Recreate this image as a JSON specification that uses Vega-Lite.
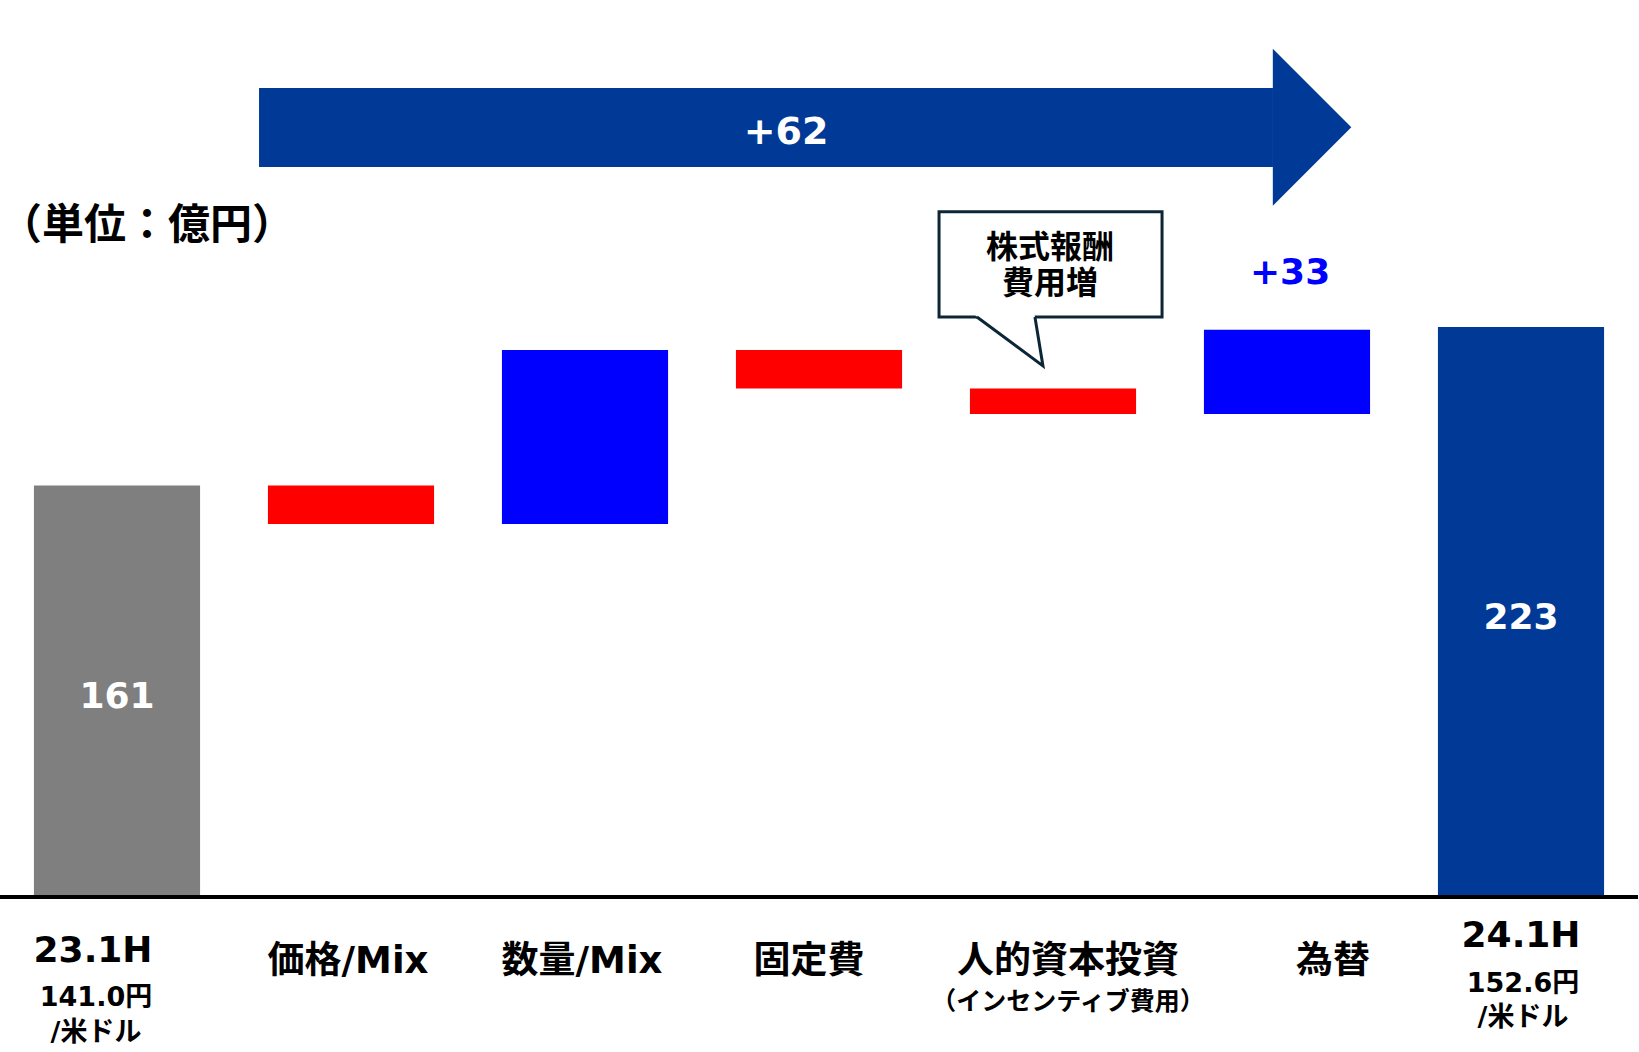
{
  "$schema": "https://vega.github.io/schema/vega-lite/v6.json",
  "width": 1638,
  "height": 897,
  "padding": {"left": 0, "top": 0, "right": 1, "bottom": 155},
  "autosize": {"type": "none"},
  "background": "white",
  "config": {"view": {"stroke": null}},
  "resolve": {"scale": {"x": "independent"}},
  "layer": [
    {
      "data": {
        "values": [
          {"category": "23.1H", "start": 0, "end": 161, "kind": "base"},
          {"category": "価格/Mix", "start": 161, "end": 146, "kind": "decrease"},
          {"category": "数量/Mix", "start": 146, "end": 214, "kind": "increase"},
          {"category": "固定費", "start": 214, "end": 199, "kind": "decrease"},
          {"category": "人的資本投資", "start": 199, "end": 189, "kind": "decrease"},
          {"category": "為替", "start": 189, "end": 222, "kind": "increase"},
          {"category": "24.1H", "start": 0, "end": 223, "kind": "result"}
        ]
      },
      "layer": [
        {
          "mark": {"type": "bar"},
          "encoding": {
            "x": {"field": "category", "type": "nominal", "axis": null,
                  "scale": {"domain": ["23.1H", "価格/Mix", "数量/Mix", "固定費", "人的資本投資", "為替", "24.1H"], "paddingInner": 0.29, "paddingOuter": 0.145}},
            "y": {"field": "start", "type": "quantitative", "axis": null,
                  "scale": {"domain": [0, 351], "nice": false, "zero": false}},
            "y2": {"field": "end"},
            "color": {"field": "kind", "type": "nominal", "legend": null,
                      "scale": {"domain": ["base", "decrease", "increase", "result"], "range": ["#7f7f7f", "#ff0000", "#0000ff", "#003a96"]}}
          }
        },
        {
          "data": {"values": [{}]},
          "mark": {"type": "rule", "color": "#000000", "strokeWidth": 4},
          "encoding": {"y": {"datum": 0, "type": "quantitative"}}
        },
        {
          "transform": [
            {"filter": "datum.kind === 'base' || datum.kind === 'result'"},
            {"fold": ["start", "end"], "as": ["k", "v"]},
            {"aggregate": [{"op": "mean", "field": "v", "as": "mid"}, {"op": "max", "field": "v", "as": "total"}], "groupby": ["category"]}
          ],
          "mark": {"type": "text", "font": "DejaVu Sans", "fontWeight": "bold", "fontSize": 36, "color": "#ffffff", "baseline": "middle", "align": "center", "dy": 6},
          "encoding": {
            "x": {"field": "category", "type": "nominal", "axis": null,
                  "scale": {"domain": ["23.1H", "価格/Mix", "数量/Mix", "固定費", "人的資本投資", "為替", "24.1H"], "paddingInner": 0.29, "paddingOuter": 0.145}},
            "y": {"field": "mid", "type": "quantitative"},
            "text": {"field": "total", "type": "quantitative"}
          }
        },
        {
          "data": {"values": [{"category": "価格/Mix", "label": "価格/Mix"}, {"category": "数量/Mix", "label": "数量/Mix"}]},
          "mark": {"type": "text", "font": "DejaVu Sans, Noto Sans CJK JP", "fontWeight": "bold", "fontSize": 37, "color": "#000000", "baseline": "middle", "align": "center", "dx": -3},
          "encoding": {
            "x": {"field": "category", "type": "nominal", "axis": null,
                  "scale": {"domain": ["23.1H", "価格/Mix", "数量/Mix", "固定費", "人的資本投資", "為替", "24.1H"], "paddingInner": 0.29, "paddingOuter": 0.145}},
            "y": {"datum": -25.4, "type": "quantitative"},
            "text": {"field": "label"}
          }
        },
        {
          "data": {"values": [{"category": "固定費", "label": "固定費"}]},
          "mark": {"type": "text", "font": "DejaVu Sans, Noto Sans CJK JP", "fontWeight": "bold", "fontSize": 37, "color": "#000000", "baseline": "middle", "align": "center", "dx": -10},
          "encoding": {
            "x": {"field": "category", "type": "nominal", "axis": null,
                  "scale": {"domain": ["23.1H", "価格/Mix", "数量/Mix", "固定費", "人的資本投資", "為替", "24.1H"], "paddingInner": 0.29, "paddingOuter": 0.145}},
            "y": {"datum": -25.4, "type": "quantitative"},
            "text": {"field": "label"}
          }
        },
        {
          "data": {"values": [{"category": "人的資本投資", "label": "人的資本投資"}]},
          "mark": {"type": "text", "font": "DejaVu Sans, Noto Sans CJK JP", "fontWeight": "bold", "fontSize": 37, "color": "#000000", "baseline": "middle", "align": "center", "dx": 15},
          "encoding": {
            "x": {"field": "category", "type": "nominal", "axis": null,
                  "scale": {"domain": ["23.1H", "価格/Mix", "数量/Mix", "固定費", "人的資本投資", "為替", "24.1H"], "paddingInner": 0.29, "paddingOuter": 0.145}},
            "y": {"datum": -25.4, "type": "quantitative"},
            "text": {"field": "label"}
          }
        },
        {
          "data": {"values": [{"category": "人的資本投資", "label": "（インセンティブ費用）"}]},
          "mark": {"type": "text", "font": "Noto Sans CJK JP", "fontWeight": "bold", "fontSize": 25, "color": "#000000", "baseline": "middle", "align": "center", "dx": 15},
          "encoding": {
            "x": {"field": "category", "type": "nominal", "axis": null,
                  "scale": {"domain": ["23.1H", "価格/Mix", "数量/Mix", "固定費", "人的資本投資", "為替", "24.1H"], "paddingInner": 0.29, "paddingOuter": 0.145}},
            "y": {"datum": -41.0, "type": "quantitative"},
            "text": {"field": "label"}
          }
        },
        {
          "data": {"values": [{"category": "為替", "label": "為替"}]},
          "mark": {"type": "text", "font": "DejaVu Sans, Noto Sans CJK JP", "fontWeight": "bold", "fontSize": 37, "color": "#000000", "baseline": "middle", "align": "center", "dx": 46},
          "encoding": {
            "x": {"field": "category", "type": "nominal", "axis": null,
                  "scale": {"domain": ["23.1H", "価格/Mix", "数量/Mix", "固定費", "人的資本投資", "為替", "24.1H"], "paddingInner": 0.29, "paddingOuter": 0.145}},
            "y": {"datum": -25.4, "type": "quantitative"},
            "text": {"field": "label"}
          }
        },
        {
          "data": {"values": [{"category": "23.1H", "label": "23.1H"}]},
          "mark": {"type": "text", "font": "DejaVu Sans", "fontWeight": "bold", "fontSize": 36, "color": "#000000", "baseline": "middle", "align": "center", "dx": -24},
          "encoding": {
            "x": {"field": "category", "type": "nominal", "axis": null,
                  "scale": {"domain": ["23.1H", "価格/Mix", "数量/Mix", "固定費", "人的資本投資", "為替", "24.1H"], "paddingInner": 0.29, "paddingOuter": 0.145}},
            "y": {"datum": -21.1, "type": "quantitative"},
            "text": {"field": "label"}
          }
        },
        {
          "data": {"values": [{"category": "23.1H", "label": "141.0円\n/米ドル"}]},
          "mark": {"type": "text", "font": "DejaVu Sans, Noto Sans CJK JP", "fontWeight": "bold", "fontSize": 27, "lineBreak": "\n", "lineHeight": 35, "color": "#000000", "baseline": "middle", "align": "center", "dx": -21},
          "encoding": {
            "x": {"field": "category", "type": "nominal", "axis": null,
                  "scale": {"domain": ["23.1H", "価格/Mix", "数量/Mix", "固定費", "人的資本投資", "為替", "24.1H"], "paddingInner": 0.29, "paddingOuter": 0.145}},
            "y": {"datum": -39.6, "type": "quantitative"},
            "text": {"field": "label"}
          }
        },
        {
          "data": {"values": [{"category": "24.1H", "label": "24.1H"}]},
          "mark": {"type": "text", "font": "DejaVu Sans", "fontWeight": "bold", "fontSize": 36, "color": "#000000", "baseline": "middle", "align": "center"},
          "encoding": {
            "x": {"field": "category", "type": "nominal", "axis": null,
                  "scale": {"domain": ["23.1H", "価格/Mix", "数量/Mix", "固定費", "人的資本投資", "為替", "24.1H"], "paddingInner": 0.29, "paddingOuter": 0.145}},
            "y": {"datum": -15.3, "type": "quantitative"},
            "text": {"field": "label"}
          }
        },
        {
          "data": {"values": [{"category": "24.1H", "label": "152.6円\n/米ドル"}]},
          "mark": {"type": "text", "font": "DejaVu Sans, Noto Sans CJK JP", "fontWeight": "bold", "fontSize": 27, "lineBreak": "\n", "lineHeight": 34, "color": "#000000", "baseline": "middle", "align": "center", "dx": 2},
          "encoding": {
            "x": {"field": "category", "type": "nominal", "axis": null,
                  "scale": {"domain": ["23.1H", "価格/Mix", "数量/Mix", "固定費", "人的資本投資", "為替", "24.1H"], "paddingInner": 0.29, "paddingOuter": 0.145}},
            "y": {"datum": -33.9, "type": "quantitative"},
            "text": {"field": "label"}
          }
        }
      ]
    },
    {
      "data": {"values": [{"label": ""}]},
      "layer": [
        {
          "mark": {"type": "rect", "color": "#003a96"},
          "encoding": {
            "x": {"datum": 1.107, "type": "quantitative", "axis": null, "scale": {"domain": [0, 7], "nice": false, "zero": false}},
            "x2": {"datum": 5.44},
            "y": {"datum": 316.6, "type": "quantitative"},
            "y2": {"datum": 285.7}
          }
        },
        {
          "mark": {"type": "point", "shape": "M-0.5,-1L0.5,0L-0.5,1Z", "size": 24649, "filled": true, "color": "#003a96", "opacity": 1, "strokeWidth": 0},
          "encoding": {
            "x": {"datum": 5.607, "type": "quantitative", "axis": null, "scale": {"domain": [0, 7], "nice": false, "zero": false}},
            "y": {"datum": 301.2, "type": "quantitative"}
          }
        },
        {
          "data": {"values": [{"label": "+62"}]},
          "mark": {"type": "text", "font": "DejaVu Sans", "fontWeight": "bold", "fontSize": 38, "color": "#ffffff", "baseline": "middle", "align": "center"},
          "encoding": {
            "x": {"datum": 3.359, "type": "quantitative", "axis": null, "scale": {"domain": [0, 7], "nice": false, "zero": false}},
            "y": {"datum": 299.0, "type": "quantitative"},
            "text": {"field": "label"}
          }
        },
        {
          "mark": {"type": "rect", "fill": "#ffffff", "stroke": "#0d2637", "strokeWidth": 3},
          "encoding": {
            "x": {"datum": 4.013, "type": "quantitative", "axis": null, "scale": {"domain": [0, 7], "nice": false, "zero": false}},
            "x2": {"datum": 4.966},
            "y": {"datum": 268.1, "type": "quantitative"},
            "y2": {"datum": 227.0}
          }
        },
        {
          "mark": {"type": "point", "shape": "M-0.74,-0.56L0.488,-0.56L0.66,0.49Z", "size": 10000, "filled": true, "color": "#ffffff", "opacity": 1, "strokeWidth": 0},
          "encoding": {
            "x": {"datum": 4.316, "type": "quantitative", "axis": null, "scale": {"domain": [0, 7], "nice": false, "zero": false}},
            "y": {"datum": 217.4, "type": "quantitative"}
          }
        },
        {
          "mark": {"type": "point", "shape": "M-0.66,-0.49L0.66,0.49L0.5,-0.49", "size": 10000, "filled": false, "fill": "transparent", "stroke": "#0d2637", "opacity": 1, "strokeWidth": 3, "strokeJoin": "miter"},
          "encoding": {
            "x": {"datum": 4.316, "type": "quantitative", "axis": null, "scale": {"domain": [0, 7], "nice": false, "zero": false}},
            "y": {"datum": 217.4, "type": "quantitative"}
          }
        },
        {
          "data": {"values": [{"label": "株式報酬"}]},
          "mark": {"type": "text", "font": "Noto Sans CJK JP", "fontWeight": "bold", "fontSize": 32, "color": "#000000", "baseline": "middle", "align": "center"},
          "encoding": {
            "x": {"datum": 4.487, "type": "quantitative", "axis": null, "scale": {"domain": [0, 7], "nice": false, "zero": false}},
            "y": {"datum": 254.0, "type": "quantitative"},
            "text": {"field": "label"}
          }
        },
        {
          "data": {"values": [{"label": "費用増"}]},
          "mark": {"type": "text", "font": "Noto Sans CJK JP", "fontWeight": "bold", "fontSize": 32, "color": "#000000", "baseline": "middle", "align": "center"},
          "encoding": {
            "x": {"datum": 4.487, "type": "quantitative", "axis": null, "scale": {"domain": [0, 7], "nice": false, "zero": false}},
            "y": {"datum": 240.0, "type": "quantitative"},
            "text": {"field": "label"}
          }
        },
        {
          "data": {"values": [{"label": "+33"}]},
          "mark": {"type": "text", "font": "DejaVu Sans", "fontWeight": "bold", "fontSize": 36, "color": "#0000ff", "baseline": "middle", "align": "center"},
          "encoding": {
            "x": {"datum": 5.513, "type": "quantitative", "axis": null, "scale": {"domain": [0, 7], "nice": false, "zero": false}},
            "y": {"datum": 244.0, "type": "quantitative"},
            "text": {"field": "label"}
          }
        },
        {
          "data": {"values": [{"label": "（単位：億円）"}]},
          "mark": {"type": "text", "font": "Noto Sans CJK JP", "fontWeight": "bold", "fontSize": 42, "color": "#000000", "baseline": "middle", "align": "left"},
          "encoding": {
            "x": {"datum": 0, "type": "quantitative", "axis": null, "scale": {"domain": [0, 7], "nice": false, "zero": false}},
            "y": {"datum": 262.5, "type": "quantitative"},
            "text": {"field": "label"}
          }
        }
      ]
    }
  ]
}
